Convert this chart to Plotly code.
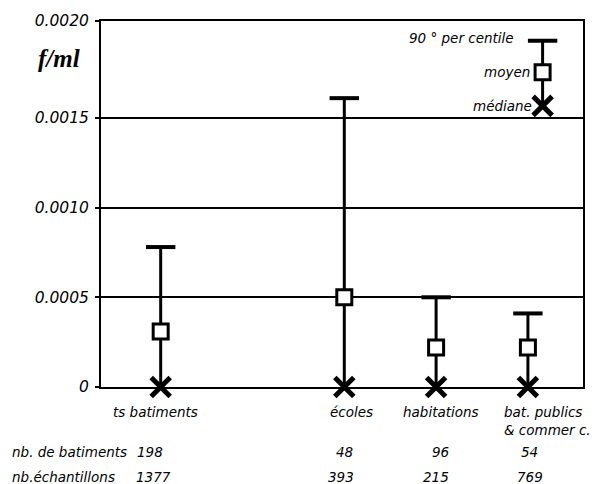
import plotly.graph_objects as go

# ---------------- data ----------------
categories = ["ts batiments", "écoles", "habitations", "bat. publics<br>& commer c."]
p90 = [0.00078, 0.00161, 0.00050, 0.00041]
moyen = [0.00031, 0.00050, 0.00022, 0.00022]
mediane = [0.0, 0.0, 0.0, 0.0]
nb_batiments = [198, 48, 96, 54]
nb_echantillons = [1377, 393, 215, 769]
legend_values = {"p90": 0.00193, "moyen": 0.001755, "mediane": 0.001567}
ytick_vals = [0, 0.0005, 0.0010, 0.0015, 0.00204]
ytick_text = ["0", "0.0005", "0.0010", "0.0015", "0.0020"]

# ---------------- layout helpers ----------------
xpos = [0, 2, 3, 4]
legend_x = 4.16
FONT = "DejaVu Sans, Arial, sans-serif"
ITAL = dict(family=FONT, size=13.5, color="black", style="italic")

fig = go.Figure()

# whisker lines
lx, ly = [], []
for x, top in zip(xpos, p90):
    lx += [x, x, None]
    ly += [0, top, None]
lx += [legend_x, legend_x, None]
ly += [legend_values["mediane"], legend_values["p90"], None]
fig.add_trace(go.Scatter(x=lx, y=ly, mode="lines",
                         line=dict(color="black", width=3), hoverinfo="skip"))

# caps (90th percentile)
fig.add_trace(go.Scatter(x=xpos + [legend_x], y=p90 + [legend_values["p90"]], mode="markers",
                         marker=dict(symbol="line-ew-open", size=21, color="black",
                                     line=dict(color="black", width=4))))
# mean squares
fig.add_trace(go.Scatter(x=xpos + [legend_x], y=moyen + [legend_values["moyen"]], mode="markers",
                         marker=dict(symbol="square", size=15, color="white",
                                     line=dict(color="black", width=3))))
# medians
fig.add_trace(go.Scatter(x=xpos + [legend_x], y=mediane + [legend_values["mediane"]], mode="markers",
                         marker=dict(symbol="x-thin-open", size=19, color="black",
                                     line=dict(color="black", width=5)),
                         cliponaxis=False))

annotations = []
# category labels
cat_shift = [-5, 7, 5, -26]
cat_anchor = ["center", "center", "center", "left"]
for x, c, s, a in zip(xpos, categories, cat_shift, cat_anchor):
    annotations.append(dict(x=x, y=-0.0625, xref="x", yref="paper", text=c,
                            showarrow=False, xanchor=a, yanchor="top", xshift=s,
                            align="left", font=ITAL, yshift=8))
# count rows
annotations.append(dict(x=-0.188, y=-0.177, xref="paper", yref="paper",
                        text="nb. de batiments", showarrow=False, xanchor="left",
                        yanchor="middle", font=ITAL))
annotations.append(dict(x=-0.188, y=-0.245, xref="paper", yref="paper",
                        text="nb.échantillons", showarrow=False, xanchor="left",
                        yanchor="middle", font=ITAL))
b_shift = [-11, 0, 4, 2]
e_shift = [-7, -3, 0, 2]
for x, b, e, sb, se in zip(xpos, nb_batiments, nb_echantillons, b_shift, e_shift):
    annotations.append(dict(x=x, y=-0.177, xref="x", yref="paper", text=str(b),
                            showarrow=False, xanchor="center", yanchor="middle",
                            xshift=sb, font=ITAL))
    annotations.append(dict(x=x, y=-0.245, xref="x", yref="paper", text=str(e),
                            showarrow=False, xanchor="center", yanchor="middle",
                            xshift=se, font=ITAL))
# legend texts
annotations.append(dict(x=legend_x, y=legend_values["p90"], xref="x", yref="y",
                        text="90 ° per centile", showarrow=False, xanchor="right",
                        yanchor="middle", xshift=-27, yshift=3, font=ITAL))
annotations.append(dict(x=legend_x, y=legend_values["moyen"], xref="x", yref="y",
                        text="moyen", showarrow=False, xanchor="right",
                        yanchor="middle", xshift=-11, font=ITAL))
annotations.append(dict(x=legend_x, y=legend_values["mediane"], xref="x", yref="y",
                        text="médiane", showarrow=False, xanchor="right",
                        yanchor="middle", xshift=-9, font=ITAL))
# y title
annotations.append(dict(x=-0.087, y=0.897, xref="paper", yref="paper",
                        text="<b><i>f/ml</i></b>", showarrow=False,
                        xanchor="center", yanchor="middle",
                        font=dict(family="Liberation Serif, Times New Roman, serif",
                                  size=25, color="black")))

fig.update_layout(
    width=597, height=484,
    margin=dict(l=101, r=12, t=19, b=97),
    paper_bgcolor="white", plot_bgcolor="white",
    showlegend=False,
    annotations=annotations,
    xaxis=dict(range=[-0.65, 4.6], showgrid=False, zeroline=False,
               showticklabels=False, ticks="",
               showline=True, mirror=True, linecolor="black", linewidth=2),
    yaxis=dict(range=[0, 0.00204], tickvals=ytick_vals, ticktext=ytick_text,
               showgrid=True, gridcolor="black", gridwidth=1.5, zeroline=False,
               showline=True, mirror=True, linecolor="black", linewidth=2,
               ticks="outside", ticklen=4, tickwidth=1.5, tickcolor="black",
               ticklabelstandoff=3,
               tickfont=dict(family=FONT, size=15.5, color="black", style="italic")),
)

fig.write_html("out.html", config={"displayModeBar": False},
               post_script="document.body.style.margin='0';")
